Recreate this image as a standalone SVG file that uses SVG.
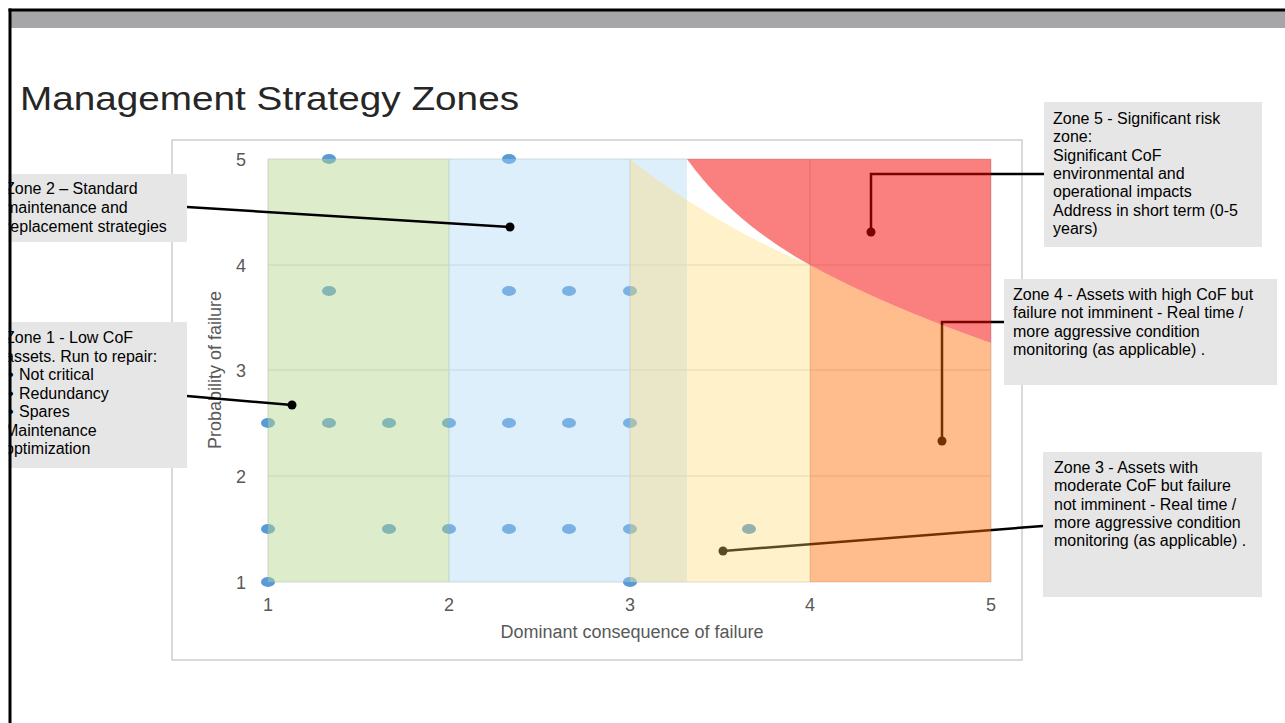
<svg xmlns="http://www.w3.org/2000/svg" width="1285" height="723" viewBox="0 0 1285 723">
<style>
.cb{fill:#e7e6e6}
.ct{font-family:"Liberation Sans",Arial,sans-serif;font-size:16px;fill:#000}
.tick{font-family:"Liberation Sans",Arial,sans-serif;font-size:18px;fill:#595959;text-anchor:middle}
.axt{font-family:"Liberation Sans",Arial,sans-serif;font-size:18px;fill:#595959;text-anchor:middle}
.conn{stroke:#000;stroke-width:2.5;fill:none}
.cdot{fill:#000}
.pt{fill:#5b9bd5}
.grid{stroke:#d9d9d9;stroke-width:1.2;fill:none}
</style>
<rect x="0" y="0" width="1285" height="723" fill="#fff"/>
<rect x="11" y="11" width="1274" height="17" fill="#a6a6a8"/>
<text x="20" y="110" font-family="Liberation Sans, Arial, sans-serif" font-size="34" fill="#262626" textLength="499" lengthAdjust="spacingAndGlyphs">Management Strategy Zones</text>

<g id="chart">
<rect x="172" y="140" width="850" height="520" fill="#fff" stroke="#d9d9d9" stroke-width="2"/>
<g class="grid">
<line x1="268" y1="159" x2="991" y2="159"/>
<line x1="268" y1="265" x2="991" y2="265"/>
<line x1="268" y1="370" x2="991" y2="370"/>
<line x1="268" y1="476" x2="991" y2="476"/>
<line x1="268" y1="582" x2="991" y2="582"/>
<line x1="268" y1="159" x2="268" y2="582"/>
<line x1="449" y1="159" x2="449" y2="582"/>
<line x1="630" y1="159" x2="630" y2="582"/>
<line x1="810" y1="159" x2="810" y2="582"/>
<line x1="991" y1="159" x2="991" y2="582"/>
</g>
<g class="tick">
<text x="241" y="166">5</text>
<text x="241" y="272">4</text>
<text x="241" y="377">3</text>
<text x="241" y="483">2</text>
<text x="241" y="589">1</text>
<text x="268" y="611">1</text>
<text x="449" y="611">2</text>
<text x="630" y="611">3</text>
<text x="810" y="611">4</text>
<text x="991" y="611">5</text>
</g>
<text class="axt" x="632" y="638">Dominant consequence of failure</text>
<text class="axt" transform="translate(221,370) rotate(-90)">Probability of failure</text>
<g id="points">
<ellipse class="pt" cx="329" cy="159" rx="7" ry="5"/>
<ellipse class="pt" cx="509" cy="159" rx="7" ry="5"/>
<ellipse class="pt" cx="329" cy="291" rx="7" ry="5"/>
<ellipse class="pt" cx="509" cy="291" rx="7" ry="5"/>
<ellipse class="pt" cx="569" cy="291" rx="7" ry="5"/>
<ellipse class="pt" cx="630" cy="291" rx="7" ry="5"/>
<ellipse class="pt" cx="268" cy="423" rx="7" ry="5"/>
<ellipse class="pt" cx="329" cy="423" rx="7" ry="5"/>
<ellipse class="pt" cx="389" cy="423" rx="7" ry="5"/>
<ellipse class="pt" cx="449" cy="423" rx="7" ry="5"/>
<ellipse class="pt" cx="509" cy="423" rx="7" ry="5"/>
<ellipse class="pt" cx="569" cy="423" rx="7" ry="5"/>
<ellipse class="pt" cx="630" cy="423" rx="7" ry="5"/>
<ellipse class="pt" cx="268" cy="529" rx="7" ry="5"/>
<ellipse class="pt" cx="389" cy="529" rx="7" ry="5"/>
<ellipse class="pt" cx="449" cy="529" rx="7" ry="5"/>
<ellipse class="pt" cx="509" cy="529" rx="7" ry="5"/>
<ellipse class="pt" cx="569" cy="529" rx="7" ry="5"/>
<ellipse class="pt" cx="630" cy="529" rx="7" ry="5"/>
<ellipse class="pt" cx="749" cy="529" rx="7" ry="5"/>
<ellipse class="pt" cx="268" cy="582" rx="7" ry="5"/>
<ellipse class="pt" cx="630" cy="582" rx="7" ry="5"/>
</g>
</g>

<g id="zone-green"><rect x="268" y="159" width="181" height="423" fill="#b4d68f" fill-opacity="0.45"/></g>
<g id="zone-blue"><rect x="449" y="159" width="238" height="423" fill="#a8d4f8" fill-opacity="0.38"/></g>

<g id="connectors">
<polyline class="conn" points="187,207 510,227"/>
<circle class="cdot" cx="510" cy="227" r="4.5"/>
<polyline class="conn" points="187,396 292,405"/>
<circle class="cdot" cx="292" cy="405" r="4.5"/>
<polyline class="conn" points="1044,174 871,174 871,232"/>
<circle class="cdot" cx="871" cy="232" r="4.5"/>
<polyline class="conn" points="1004,322 942,322 942,441"/>
<circle class="cdot" cx="942" cy="441" r="4.5"/>
<polyline class="conn" points="1043,526 723,551"/>
<circle class="cdot" cx="723" cy="551" r="4.5"/>
</g>

<g id="zone-yellow"><path d="M630,159 Q710,223 810,265 L810,582 L630,582 Z" fill="#ffd966" fill-opacity="0.35"/></g>
<g id="zone-orange"><path d="M810,265 Q883,305 991,343 L991,582 L810,582 Z" fill="#ff6a00" fill-opacity="0.45"/></g>
<g id="zone-red"><path d="M687,159 L991,159 L991,343 Q883,305 810,265 Q732,222 687,159 Z" fill="#f50000" fill-opacity="0.5"/></g>

<g id="callout-zone2">
<rect class="cb" x="0" y="174" width="187" height="68"/>
<text class="ct"><tspan x="5" y="194">Zone 2 – Standard</tspan><tspan x="5" y="212.8">maintenance and</tspan><tspan x="5" y="231.6">replacement strategies</tspan></text>
</g>
<g id="callout-zone1">
<rect class="cb" x="0" y="322" width="187" height="146"/>
<text class="ct"><tspan x="5" y="343">Zone 1 - Low CoF</tspan><tspan x="5" y="361.5">assets. Run to repair:</tspan><tspan x="8" y="380">•</tspan><tspan x="19" y="380">Not critical</tspan><tspan x="8" y="398.5">•</tspan><tspan x="19" y="398.5">Redundancy</tspan><tspan x="8" y="417">•</tspan><tspan x="19" y="417">Spares</tspan><tspan x="5" y="435.5">Maintenance</tspan><tspan x="5" y="454">optimization</tspan></text>
</g>
<g id="callout-zone5">
<rect class="cb" x="1044" y="102" width="218" height="145"/>
<text class="ct"><tspan x="1053" y="124">Zone 5 - Significant risk</tspan><tspan x="1053" y="142.3">zone:</tspan><tspan x="1053" y="160.6">Significant CoF</tspan><tspan x="1053" y="178.9">environmental and</tspan><tspan x="1053" y="197.2">operational impacts</tspan><tspan x="1053" y="215.5">Address in short term (0-5</tspan><tspan x="1053" y="233.8">years)</tspan></text>
</g>
<g id="callout-zone4">
<rect class="cb" x="1004" y="279" width="273" height="106"/>
<text class="ct"><tspan x="1013" y="300">Zone 4 - Assets with high CoF but</tspan><tspan x="1013" y="318.3">failure not imminent - Real time /</tspan><tspan x="1013" y="336.6">more aggressive condition</tspan><tspan x="1013" y="354.9">monitoring (as applicable) .</tspan></text>
</g>
<g id="callout-zone3">
<rect class="cb" x="1043" y="452" width="219" height="145"/>
<text class="ct"><tspan x="1054" y="473">Zone 3 - Assets with</tspan><tspan x="1054" y="491.3">moderate CoF but failure</tspan><tspan x="1054" y="509.6">not imminent - Real time /</tspan><tspan x="1054" y="527.9">more aggressive condition</tspan><tspan x="1054" y="546.2">monitoring (as applicable) .</tspan></text>
</g>

<rect x="0" y="0" width="8.5" height="723" fill="#fff"/>
<line x1="10" y1="8.5" x2="10" y2="723" stroke="#000" stroke-width="3"/>
<line x1="8.5" y1="10" x2="1285" y2="10" stroke="#000" stroke-width="3"/>
</svg>
